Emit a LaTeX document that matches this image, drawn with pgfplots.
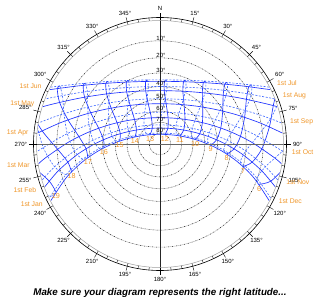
\documentclass[border=0pt]{standalone}
\usepackage{fontspec}
\setmainfont{Liberation Sans}
\usepackage{pgfplots}
\pgfplotsset{compat=1.18}
\definecolor{lblor}{RGB}{240,150,40}
\definecolor{solblue}{RGB}{30,50,255}
\definecolor{dashblue}{RGB}{70,110,255}
\tikzset{
  sol/.style={solblue,line width=0.65pt},
  das/.style={dashblue,line width=0.65pt,dash pattern=on 2pt off 1.5pt},
  azl/.style={font=\fontsize{6}{6}\selectfont,inner sep=0.8pt},
  dtl/.style={font=\fontsize{6.8}{7}\selectfont,text=lblor,inner sep=0.8pt},
  hrl/.style={font=\fontsize{7.2}{7.5}\selectfont,text=lblor,inner sep=0.5pt,anchor=north,yshift=-1pt},
  altl/.style={font=\fontsize{6}{6}\selectfont,inner sep=0.5pt,anchor=south}
}
\begin{document}
\begin{tikzpicture}
\begin{axis}[x=1pt,y=1pt,xmin=-160,xmax=160,ymin=-158,ymax=144,hide axis,clip=false]
\coordinate (LL) at (axis cs:-160,-158);
\coordinate (UR) at (axis cs:160,144);
% altitude circles
\pgfplotsinvokeforeach{103.21,86.13,71.01,57.36,44.77,32.96,21.69,10.76}{
  \draw[gray!60,line width=0.5pt,dash pattern=on 2pt off 2pt] (axis cs:0,0) circle[radius=#1pt];
  \draw[black,line width=0.5pt,dash pattern=on 1pt off 3pt,dash phase=-2.5pt] (axis cs:0,0) circle[radius=#1pt];
}
% date lines (1st of month)
\addplot[sol,smooth] coordinates {(109.17,-56.67) (93.80,-33.77) (77.61,-17.90) (61.38,-6.73) (45.51,0.95) (30.06,5.95) (14.94,8.77) (0,9.68) (-14.94,8.77) (-30.06,5.95) (-45.51,0.95) (-61.38,-6.73) (-77.61,-17.90) (-93.80,-33.77) (-109.17,-56.67)};
\addplot[sol,smooth] coordinates {(115.28,-42.89) (101.58,-26.67) (83.06,-10.78) (65.16,0.18) (48.04,7.62) (31.62,12.42) (15.68,15.11) (0,15.97) (-15.68,15.11) (-31.62,12.42) (-48.04,7.62) (-65.16,0.18) (-83.06,-10.78) (-101.58,-26.67) (-115.28,-42.89)};
\addplot[sol,smooth] coordinates {(121.41,-19.69) (113.69,-13.21) (91.29,1.98) (70.73,12.15) (51.72,18.91) (33.86,23.21) (16.75,25.60) (0,26.37) (-16.75,25.60) (-33.86,23.21) (-51.72,18.91) (-70.73,12.15) (-91.29,1.98) (-113.69,-13.21) (-121.41,-19.69)};
\addplot[sol,smooth] coordinates {(122.52,10.88) (100.48,20.90) (76.80,29.15) (55.66,34.51) (36.23,37.88) (17.86,39.73) (0,40.32) (-17.86,39.73) (-36.23,37.88) (-55.66,34.51) (-76.80,29.15) (-100.48,20.90) (-122.52,10.88)};
\addplot[sol,smooth] coordinates {(117.21,37.29) (106.72,40.08) (80.83,45.79) (58.24,49.45) (37.77,51.71) (18.59,52.96) (0,53.35) (-18.59,52.96) (-37.77,51.71) (-58.24,49.45) (-80.83,45.79) (-106.72,40.08) (-117.21,37.29)};
\addplot[sol,smooth] coordinates {(110.35,54.33) (82.67,58.00) (59.41,60.27) (38.46,61.66) (18.91,62.43) (0,62.67) (-18.91,62.43) (-38.46,61.66) (-59.41,60.27) (-82.67,58.00) (-110.35,54.33)};
\addplot[das,smooth] coordinates {(109.05,56.90) (82.89,59.98) (59.54,62.01) (38.54,63.26) (18.95,63.95) (0,64.17) (-18.95,63.95) (-38.54,63.26) (-59.54,62.01) (-82.89,59.98) (-109.05,56.90)};
\addplot[das,smooth] coordinates {(114.45,45.06) (108.17,46.40) (81.76,51.18) (58.83,54.23) (38.12,56.12) (18.75,57.16) (0,57.49) (-18.75,57.16) (-38.12,56.12) (-58.83,54.23) (-81.76,51.18) (-108.17,46.40) (-114.45,45.06)};
\addplot[das,smooth] coordinates {(121.16,21.19) (103.13,28.01) (78.52,35.38) (56.76,40.13) (36.89,43.10) (18.17,44.73) (0,45.25) (-18.17,44.73) (-36.89,43.10) (-56.76,40.13) (-78.52,35.38) (-103.13,28.01) (-121.16,21.19)};
\addplot[das,smooth] coordinates {(122.77,-7.59) (119.52,-5.31) (95.15,9.13) (73.30,18.66) (53.40,24.94) (34.87,28.91) (17.22,31.11) (0,31.81) (-17.22,31.11) (-34.87,28.91) (-53.40,24.94) (-73.30,18.66) (-95.15,9.13) (-119.52,-5.31) (-122.77,-7.59)};
\addplot[das,smooth] coordinates {(117.67,-35.83) (105.39,-22.78) (85.69,-7.01) (66.95,3.77) (49.23,11.04) (32.34,15.70) (16.03,18.31) (0,19.15) (-16.03,18.31) (-32.34,15.70) (-49.23,11.04) (-66.95,3.77) (-85.69,-7.01) (-105.39,-22.78) (-117.67,-35.83)};
\addplot[das,smooth] coordinates {(110.58,-53.86) (95.42,-32.37) (78.76,-16.47) (62.18,-5.33) (46.05,2.31) (30.39,7.28) (15.10,10.08) (0,10.98) (-15.10,10.08) (-30.39,7.28) (-46.05,2.31) (-62.18,-5.33) (-78.76,-16.47) (-95.42,-32.37) (-110.58,-53.86)};
% hour lines, Jan to Jul (solid)
\addplot[sol,smooth] coordinates {(99.00,-40.35) (110.88,-37.13) (125.21,-23.14)};
\addplot[sol,smooth] coordinates {(83.03,-22.58) (92.31,-18.03) (101.92,-4.63) (109.37,17.14) (113.27,38.38) (116.83,53.32)};
\addplot[sol,smooth] coordinates {(66.74,-10.01) (74.05,-4.81) (80.50,7.72) (84.60,26.71) (86.41,44.70) (88.74,57.29) (91.64,59.04)};
\addplot[sol,smooth] coordinates {(50.73,-1.27) (56.53,4.26) (60.78,15.98) (62.69,32.93) (63.18,48.75) (64.73,59.81) (67.20,61.42)};
\addplot[sol,smooth] coordinates {(35.15,4.55) (39.78,10.30) (42.41,21.39) (42.75,36.91) (42.31,51.29) (43.33,61.39) (45.53,62.90)};
\addplot[sol,smooth] coordinates {(19.93,8.05) (23.63,14.00) (24.98,24.66) (24.09,39.24) (22.90,52.75) (23.52,62.30) (25.54,63.77)};
\addplot[sol,smooth] coordinates {(4.95,9.58) (7.86,15.76) (8.10,26.19) (6.11,40.25) (4.23,53.33) (4.51,62.66) (6.45,64.14)};
\addplot[sol,smooth] coordinates {(-9.97,9.28) (-7.79,15.76) (-8.60,26.17) (-11.70,40.07) (-14.30,53.12) (-14.34,62.53) (-12.43,64.07)};
\addplot[sol,smooth] coordinates {(-25.01,7.11) (-23.57,14.01) (-25.48,24.59) (-29.84,38.67) (-33.30,52.08) (-33.67,61.90) (-31.72,63.55)};
\addplot[sol,smooth] coordinates {(-40.34,2.88) (-39.72,10.32) (-42.93,21.26) (-48.83,35.86) (-53.40,50.07) (-54.21,60.67) (-52.15,62.51)};
\addplot[sol,smooth] coordinates {(-56.07,-3.84) (-56.47,4.29) (-61.34,15.79) (-69.30,31.26) (-75.42,46.78) (-76.81,58.64) (-74.56,60.78)};
\addplot[sol,smooth] coordinates {(-72.20,-13.74) (-73.98,-4.76) (-81.10,7.43) (-92.00,24.14) (-100.43,41.62) (-102.71,55.45) (-100.16,58.04)};
\addplot[sol,smooth] coordinates {(-88.48,-27.89) (-92.24,-17.96) (-102.58,-5.07) (-117.89,13.18) (-129.99,33.51)};
\addplot[sol,smooth] coordinates {(-104.08,-47.79) (-110.81,-37.04) (-125.91,-23.81)};
% hour lines, Jul to Jan (dashed)
\addplot[das,smooth] coordinates {(140.81,12.26) (122.28,-7.25) (105.39,-22.78) (96.95,-34.15) (99.00,-40.35)};
\addplot[das,smooth] coordinates {(119.55,43.91) (110.60,25.34) (97.62,7.86) (85.69,-7.01) (80.32,-17.73) (83.03,-22.58)};
\addplot[das,smooth] coordinates {(91.64,59.04) (91.35,49.60) (84.99,33.65) (75.53,17.82) (66.95,3.77) (63.71,-6.21) (66.74,-10.01)};
\addplot[das,smooth] coordinates {(67.20,61.42) (67.26,53.23) (62.56,39.02) (55.44,24.39) (49.23,11.04) (47.54,1.72) (50.73,-1.27)};
\addplot[das,smooth] coordinates {(45.53,62.90) (45.83,55.51) (42.25,42.43) (36.80,28.58) (32.34,15.70) (31.84,6.91) (35.15,4.55)};
\addplot[das,smooth] coordinates {(25.54,63.77) (26.04,56.85) (23.27,44.40) (19.08,30.94) (16.03,18.31) (16.52,9.90) (19.93,8.05)};
\addplot[das,smooth] coordinates {(6.45,64.14) (7.13,57.44) (5.01,45.22) (1.83,31.80) (0.00,19.15) (1.41,10.97) (4.95,9.58)};
\addplot[das,smooth] coordinates {(-12.43,64.07) (-11.55,57.36) (-13.11,44.98) (-15.37,31.25) (-16.03,18.31) (-13.69,10.24) (-9.97,9.28)};
\addplot[das,smooth] coordinates {(-31.72,63.55) (-30.60,56.61) (-31.63,43.67) (-32.96,29.22) (-32.34,15.70) (-28.95,7.62) (-25.01,7.11)};
\addplot[das,smooth] coordinates {(-52.15,62.51) (-50.71,55.07) (-51.11,41.11) (-51.36,25.46) (-49.23,11.04) (-44.57,2.88) (-40.34,2.88)};
\addplot[das,smooth] coordinates {(-74.56,60.78) (-72.67,52.51) (-72.26,36.91) (-71.10,19.47) (-66.95,3.77) (-60.66,-4.48) (-56.07,-3.84)};
\addplot[das,smooth] coordinates {(-100.16,58.04) (-97.57,48.49) (-95.96,30.38) (-92.71,10.35) (-85.69,-7.01) (-77.20,-15.26) (-72.20,-13.74)};
\addplot[das,smooth] coordinates {(-123.42,20.24) (-116.78,-3.46) (-105.39,-22.78) (-93.89,-30.64) (-88.48,-27.89)};
\addplot[das,smooth] coordinates {(-125.32,-45.78) (-109.72,-52.36) (-104.08,-47.79)};
% mask outside horizon
\fill[white,even odd rule] (axis cs:-160,-158) rectangle (axis cs:160,144) (axis cs:0,0) circle[radius=123.3pt];
% axes lines
\draw[black!85,line width=0.5pt] (axis cs:0,-126.5) -- (axis cs:0,126.5);
\draw[gray!80!black,line width=0.8pt] (axis cs:-126.5,0) -- (axis cs:126.5,0);
% rings
\draw[gray!75,line width=0.5pt] (axis cs:0,0) circle[radius=123.5pt];
\draw[black,line width=0.6pt] (axis cs:0,0) circle[radius=126.5pt];
\pgfplotsinvokeforeach{0,5,...,355}{
  \draw[black,line width=0.35pt] (axis cs:0,0) ++({90-#1}:123.5pt) -- ++({90-#1}:3pt);
}
\pgfplotsinvokeforeach{0,15,...,345}{
  \draw[black,line width=0.4pt] (axis cs:0,0) ++({90-#1}:126.5pt) -- ++({90-#1}:4.5pt);
}
% azimuth labels
\path (axis cs:0,0) ++(90:132pt) node[azl,anchor=270] {N};
\path (axis cs:0,0) ++(75:132pt) node[azl,anchor=255] {15°};
\path (axis cs:0,0) ++(60:132pt) node[azl,anchor=240] {30°};
\path (axis cs:0,0) ++(45:132pt) node[azl,anchor=225] {45°};
\path (axis cs:0,0) ++(30:132pt) node[azl,anchor=210] {60°};
\path (axis cs:0,0) ++(15:132pt) node[azl,anchor=195] {75°};
\path (axis cs:0,0) ++(0:132pt) node[azl,anchor=180] {90°};
\path (axis cs:0,0) ++(-15:132pt) node[azl,anchor=165] {105°};
\path (axis cs:0,0) ++(-30:132pt) node[azl,anchor=150] {120°};
\path (axis cs:0,0) ++(-45:132pt) node[azl,anchor=135] {135°};
\path (axis cs:0,0) ++(-60:132pt) node[azl,anchor=120] {150°};
\path (axis cs:0,0) ++(-75:132pt) node[azl,anchor=105] {165°};
\path (axis cs:0,0) ++(-90:132pt) node[azl,anchor=90] {180°};
\path (axis cs:0,0) ++(-105:132pt) node[azl,anchor=75] {195°};
\path (axis cs:0,0) ++(-120:132pt) node[azl,anchor=60] {210°};
\path (axis cs:0,0) ++(-135:132pt) node[azl,anchor=45] {225°};
\path (axis cs:0,0) ++(-150:132pt) node[azl,anchor=30] {240°};
\path (axis cs:0,0) ++(-165:132pt) node[azl,anchor=15] {255°};
\path (axis cs:0,0) ++(180:132pt) node[azl,anchor=0] {270°};
\path (axis cs:0,0) ++(165:132pt) node[azl,anchor=345] {285°};
\path (axis cs:0,0) ++(150:132pt) node[azl,anchor=330] {300°};
\path (axis cs:0,0) ++(135:132pt) node[azl,anchor=315] {315°};
\path (axis cs:0,0) ++(120:132pt) node[azl,anchor=300] {330°};
\path (axis cs:0,0) ++(105:132pt) node[azl,anchor=285] {345°};
% altitude labels
\node[altl] at (axis cs:1,103.21) {10°};
\node[altl] at (axis cs:1,86.13) {20°};
\node[altl] at (axis cs:1,71.01) {30°};
\node[altl] at (axis cs:1,57.36) {40°};
\node[altl] at (axis cs:1,44.77) {50°};
\node[altl] at (axis cs:1,32.96) {60°};
\node[altl] at (axis cs:1,21.69) {70°};
\node[altl] at (axis cs:1,10.76) {80°};
% date labels
\node[dtl,anchor=west] at (axis cs:116.1,60.6) {1st Jul};
\node[dtl,anchor=west] at (axis cs:121.9,48.0) {1st Aug};
\node[dtl,anchor=west] at (axis cs:129.0,22.6) {1st Sep};
\node[dtl,anchor=west] at (axis cs:130.8,-8.1) {1st Oct};
\node[dtl,anchor=west] at (axis cs:125.3,-38.2) {1st Nov};
\node[dtl,anchor=west] at (axis cs:117.8,-57.4) {1st Dec};
\node[dtl,anchor=east] at (axis cs:-117.5,57.9) {1st Jun};
\node[dtl,anchor=east] at (axis cs:-124.8,39.7) {1st May};
\node[dtl,anchor=east] at (axis cs:-130.5,11.6) {1st Apr};
\node[dtl,anchor=east] at (axis cs:-129.3,-21.0) {1st Mar};
\node[dtl,anchor=east] at (axis cs:-122.8,-45.7) {1st Feb};
\node[dtl,anchor=east] at (axis cs:-116.3,-60.4) {1st Jan};
% hour labels
\node[hrl] at (axis cs:99.00,-40.35) {6};
\node[hrl] at (axis cs:83.03,-22.58) {7};
\node[hrl] at (axis cs:66.74,-10.01) {8};
\node[hrl] at (axis cs:50.73,-1.27) {9};
\node[hrl] at (axis cs:35.15,4.55) {10};
\node[hrl] at (axis cs:19.93,8.05) {11};
\node[hrl] at (axis cs:4.95,9.58) {12};
\node[hrl] at (axis cs:-9.97,9.28) {13};
\node[hrl] at (axis cs:-25.01,7.11) {14};
\node[hrl] at (axis cs:-40.34,2.88) {15};
\node[hrl] at (axis cs:-56.07,-3.84) {16};
\node[hrl] at (axis cs:-72.20,-13.74) {17};
\node[hrl] at (axis cs:-88.48,-27.89) {18};
\node[hrl] at (axis cs:-104.08,-47.79) {19};
% caption
\node[font=\fontsize{9.8}{11}\selectfont\bfseries\itshape] at (axis cs:0,-149) {Make sure your diagram represents the right latitude...};
\end{axis}
\pgfresetboundingbox
\path (LL) rectangle (UR);
\end{tikzpicture}
\end{document}
